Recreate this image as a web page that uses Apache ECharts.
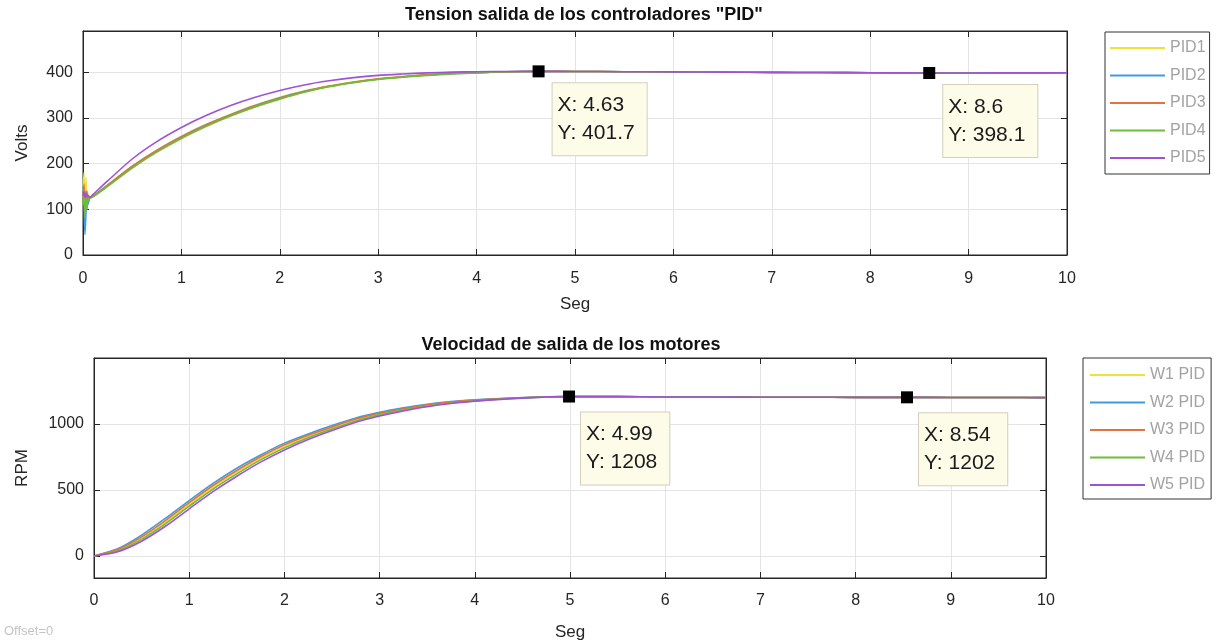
<!DOCTYPE html>
<html>
<head>
<meta charset="utf-8">
<script src="https://cdn.jsdelivr.net/npm/echarts@6/dist/echarts.min.js"></script>
<style>
  html, body { margin: 0; padding: 0; background: #fff; }
  #chart { width: 1220px; height: 644px; }
</style>
</head>
<body>
<div id="chart"></div>
<script>
// ---- Controller output voltage (V) vs time (s) ----
const tVolt = [0, 0.01, 0.02, 0.03, 0.04, 0.05, 0.07, 0.1, 0.25, 0.5, 0.75, 1, 1.25, 1.5, 1.75, 2,
  2.25, 2.5, 2.75, 3, 3.25, 3.5, 3.75, 4, 4.3, 4.63, 5, 5.5, 6, 6.5, 7, 7.5, 8, 8.6, 9, 9.5, 10];
const pid1 = [140, 180, 90, 170, 100, 135, 125, 129, 154, 195, 230, 260, 286, 308, 328, 345,
  359, 370, 379, 386, 391, 395, 397, 399, 400.8, 401.6, 401.5, 401, 400.6, 400.1, 399.6, 399.1, 398.6, 398.1, 398.2, 398.4, 398.6];
const pid2 = [150, 120, 45, 90, 140, 110, 125, 128, 153, 194, 229, 259, 285, 307, 327, 344,
  358, 369, 378, 385, 390, 394, 397, 399, 400.8, 401.6, 401.5, 401, 400.6, 400.1, 399.6, 399.1, 398.6, 398.1, 398.2, 398.4, 398.6];
const pid3 = [120, 155, 105, 140, 115, 128, 125, 128, 152, 193, 228, 258, 284, 306, 326, 343,
  357, 369, 378, 385, 390, 394, 397, 399, 400.8, 401.6, 401.5, 401, 400.6, 400.1, 399.6, 399.1, 398.6, 398.1, 398.2, 398.4, 398.6];
const pid4 = [110, 140, 82, 125, 100, 120, 125, 127, 150, 190, 225, 255, 281, 304, 324, 341,
  356, 368, 377, 384, 389, 393, 396, 398.5, 400.6, 401.5, 401.5, 401, 400.6, 400.1, 399.6, 399.1, 398.6, 398.1, 398.2, 398.4, 398.6];
const pid5 = [130, 138, 126, 135, 128, 130, 126, 132, 162, 210, 248, 279, 305, 327, 345, 360,
  372, 381, 388, 393, 396, 398.5, 400, 401, 401.5, 401.7, 401.5, 401, 400.6, 400.1, 399.6, 399.1, 398.6, 398.1, 398.2, 398.4, 398.6];

// ---- Motor speed (RPM) vs time (s) ----
const tRpm = [0, 0.25, 0.5, 0.75, 1, 1.25, 1.5, 1.75, 2, 2.25, 2.5, 2.75, 3, 3.25, 3.5, 3.75, 4,
  4.5, 4.99, 5.5, 6, 6.5, 7, 7.5, 8, 8.54, 9, 9.5, 10];
const w1 = [0, 45, 135, 255, 390, 520, 635, 740, 830, 905, 970, 1030, 1075, 1110, 1140, 1162, 1178,
  1198, 1208, 1207, 1205, 1204, 1203, 1203, 1202, 1202, 1201, 1201, 1200];
const w2 = [0, 55, 158, 285, 420, 550, 665, 765, 855, 925, 988, 1045, 1088, 1122, 1150, 1170, 1184,
  1201, 1208, 1207, 1205, 1204, 1203, 1203, 1202, 1202, 1201, 1201, 1200];
const w3 = [0, 50, 145, 268, 404, 534, 648, 752, 842, 915, 978, 1037, 1081, 1116, 1145, 1166, 1181,
  1199, 1208, 1207, 1205, 1204, 1203, 1203, 1202, 1202, 1201, 1201, 1200];
const w4 = [0, 40, 126, 243, 377, 507, 622, 728, 819, 896, 962, 1023, 1069, 1105, 1136, 1159, 1175,
  1197, 1207, 1207, 1205, 1204, 1203, 1203, 1202, 1202, 1201, 1201, 1200];
const w5 = [0, 32, 112, 225, 357, 487, 604, 711, 803, 882, 950, 1013, 1061, 1099, 1131, 1155, 1173,
  1196, 1207, 1207, 1205, 1204, 1203, 1203, 1202, 1202, 1201, 1201, 1200];

// ---- Data tips ----
const voltTips = [[4.63, 401.7], [8.6, 398.1]];
const rpmTips = [[4.99, 1208], [8.54, 1202]];

// ---- Names and tick values ----
const voltNames = ['PID1', 'PID2', 'PID3', 'PID4', 'PID5'];
const rpmNames = ['W1 PID', 'W2 PID', 'W3 PID', 'W4 PID', 'W5 PID'];
const voltTicks = [0, 100, 200, 300, 400];
const rpmTicks = [0, 500, 1000];
const colors = ['#efe03a', '#3f9be0', '#e2723f', '#6fbb3a', '#a052d6'];

const FONT = 'Liberation Sans, Arial, Helvetica, sans-serif';
const INK = '#262626';

const zip = (ts, vs) => ts.map((t, i) => [t, vs[i]]);

const chart = echarts.init(document.getElementById('chart'), null, { renderer: 'canvas' });

function mainX(grid, gap, nameGap) {
  return {
    gridIndex: grid, type: 'value', min: 0, max: 10, interval: 1,
    name: 'Seg', nameLocation: 'middle', nameGap: nameGap,
    nameTextStyle: { fontFamily: FONT, fontSize: 17, color: INK },
    axisLine: { show: true, onZero: false, lineStyle: { color: INK, width: 1 } },
    axisTick: { show: true, inside: true, length: 6, lineStyle: { color: INK } },
    axisLabel: { fontFamily: FONT, fontSize: 16, color: INK, margin: gap },
    splitLine: { show: true, lineStyle: { color: '#e4e4e4', width: 1 } }
  };
}
function mainY(grid, min, max, ticks, name, nameGap) {
  return {
    gridIndex: grid, type: 'value', min: min, max: max,
    name: name, nameLocation: 'middle', nameGap: nameGap, nameRotate: 90,
    nameTextStyle: { fontFamily: FONT, fontSize: 17, color: INK },
    axisLine: { show: true, onZero: false, lineStyle: { color: INK, width: 1 } },
    axisTick: { show: true, inside: true, length: 6, lineStyle: { color: INK }, customValues: ticks },
    axisLabel: { fontFamily: FONT, fontSize: 16, color: INK, margin: 10, customValues: ticks,
      formatter: v => String(v) },
    splitLine: { show: true, lineStyle: { color: '#e4e4e4', width: 1 } }
  };
}
// box edges on top/right with inward ticks
function boxX(grid) {
  return {
    gridIndex: grid, type: 'value', position: 'top', min: 0, max: 10, interval: 1,
    axisLine: { show: true, onZero: false, lineStyle: { color: INK } },
    axisTick: { show: true, inside: true, length: 6, lineStyle: { color: INK } },
    axisLabel: { show: false }, splitLine: { show: false }
  };
}
function boxY(grid, min, max, ticks) {
  return {
    gridIndex: grid, type: 'value', position: 'right', min: min, max: max,
    axisLine: { show: true, onZero: false, lineStyle: { color: INK } },
    axisTick: { show: true, inside: true, length: 6, lineStyle: { color: INK }, customValues: ticks },
    axisLabel: { show: false, customValues: ticks }, splitLine: { show: false }
  };
}

function lineSeries(name, ts, vs, color, grid) {
  return {
    name: name, type: 'line', xAxisIndex: grid, yAxisIndex: grid,
    data: zip(ts, vs), showSymbol: false, symbol: 'none',
    smooth: 0.25, color: color,
    lineStyle: { color: color, width: 1.6 }, emphasis: { disabled: true }
  };
}

function tipSeries(points, grid, offset) {
  return {
    type: 'scatter', xAxisIndex: grid, yAxisIndex: grid, z: 10,
    data: points, symbol: 'rect', symbolSize: 12,
    itemStyle: { color: '#000', opacity: 1 },
    label: {
      show: true, position: offset,
      formatter: p => 'X: ' + p.value[0] + '\nY: ' + p.value[1],
      fontFamily: FONT, fontSize: 21, lineHeight: 28, color: '#1a1a1a',
      backgroundColor: '#fdfce8', borderColor: '#d2d0bd', borderWidth: 1,
      padding: [8, 12, 8, 5], align: 'left', verticalAlign: 'top'
    },
    emphasis: { disabled: true }
  };
}

const legendText = { fontFamily: FONT, fontSize: 16, color: '#a3a3a3' };

const option = {
  animation: false,
  backgroundColor: '#ffffff',
  title: [
    { text: 'Tension salida de los controladores "PID"', left: 584, top: 6, textAlign: 'center', padding: 0,
      textStyle: { fontFamily: FONT, fontSize: 18, fontWeight: 'bold', color: '#111' } },
    { text: 'Velocidad de salida de los motores', left: 571, top: 336, textAlign: 'center', padding: 0,
      textStyle: { fontFamily: FONT, fontSize: 18, fontWeight: 'bold', color: '#111' } }
  ],
  grid: [
    { left: 83, top: 31, width: 984, height: 224, show: true, borderColor: INK, borderWidth: 1, backgroundColor: '#fff' },
    { left: 94, top: 358, width: 952, height: 220, show: true, borderColor: INK, borderWidth: 1, backgroundColor: '#fff' }
  ],
  legend: [
    { data: voltNames, orient: 'vertical', left: 1105, top: 32, itemWidth: 55, itemHeight: 2, itemGap: 11.5,
      icon: 'rect', selectedMode: false, textStyle: legendText, borderColor: '#333', borderWidth: 1,
      padding: [8, 4, 8, 5], backgroundColor: '#fff' },
    { data: rpmNames, orient: 'vertical', left: 1083, top: 358, itemWidth: 55, itemHeight: 2, itemGap: 11.5,
      icon: 'rect', selectedMode: false, textStyle: legendText, borderColor: '#333', borderWidth: 1,
      padding: [9, 6, 6, 7], backgroundColor: '#fff' }
  ],
  xAxis: [mainX(0, 16, 41), mainX(1, 15, 46), boxX(0), boxX(1)],
  yAxis: [mainY(0, 0, 490, voltTicks, 'Volts', 52), mainY(1, -167, 1500, rpmTicks, 'RPM', 63),
          boxY(0, 0, 490, voltTicks), boxY(1, -167, 1500, rpmTicks)],
  series: [
    lineSeries(voltNames[0], tVolt, pid1, colors[0], 0),
    lineSeries(voltNames[1], tVolt, pid2, colors[1], 0),
    lineSeries(voltNames[2], tVolt, pid3, colors[2], 0),
    lineSeries(voltNames[3], tVolt, pid4, colors[3], 0),
    lineSeries(voltNames[4], tVolt, pid5, colors[4], 0),
    lineSeries(rpmNames[0], tRpm, w1, colors[0], 1),
    lineSeries(rpmNames[1], tRpm, w2, colors[1], 1),
    lineSeries(rpmNames[2], tRpm, w3, colors[2], 1),
    lineSeries(rpmNames[3], tRpm, w4, colors[3], 1),
    lineSeries(rpmNames[4], tRpm, w5, colors[4], 1),
    tipSeries(voltTips, 0, [20, 18]),
    tipSeries(rpmTips, 1, [18, 22])
  ],
  graphic: [
    { type: 'text', left: 4, top: 625, style: { text: 'Offset=0', fontFamily: FONT, fontSize: 13, fill: '#c4c4c4' } }
  ]
};

chart.setOption(option);
</script>
</body>
</html>
